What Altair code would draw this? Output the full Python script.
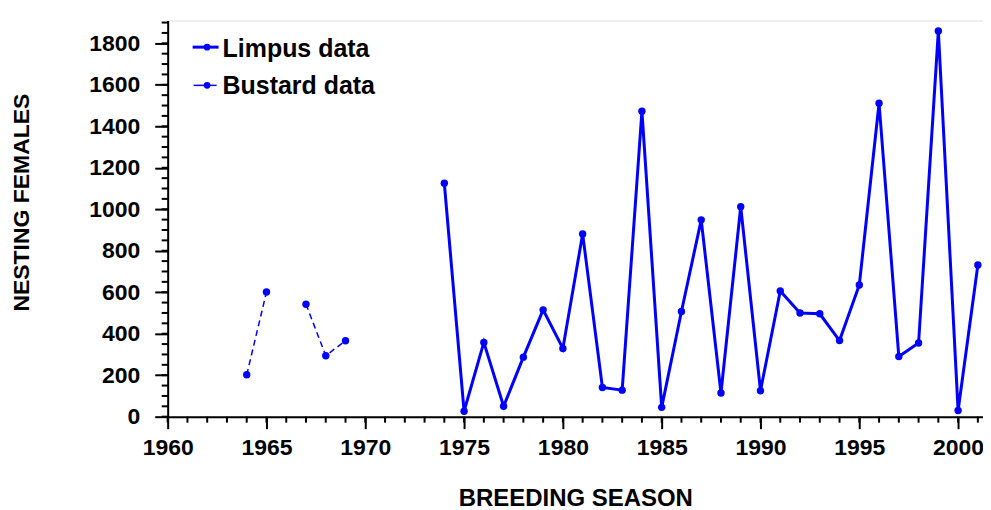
import altair as alt
import pandas as pd

# ---- data ----
limpus_years = list(range(1974, 2002))
limpus_values = [1125, 26, 358, 50, 287, 515, 329, 881, 141, 128, 1473, 45, 507,
                 949, 114, 1012, 125, 606, 500, 496, 367, 635, 1511, 290, 355,
                 1859, 30, 731]

bustard_years = [1964, 1965, 1967, 1968, 1969]
bustard_values = [202, 601, 542, 294, 366]

x_ticks = list(range(1960, 2001, 5))
x_minor = list(range(1960, 2002))
y_ticks = list(range(0, 1801, 200))
y_minor = list(range(0, 1901, 50))

legend_labels = ["Limpus data", "Bustard data"]

# ---- tables ----
limpus = pd.DataFrame({"year": limpus_years, "value": limpus_values})
seg = []
s = 0
for i, yr in enumerate(bustard_years):
    if i > 0 and yr - bustard_years[i - 1] > 1:
        s += 1
    seg.append(s)
bustard = pd.DataFrame({"year": bustard_years, "value": bustard_values, "seg": seg})

W, H = 817, 397
BLUE = "#0000FF"
FONT = "Liberation Sans"

xscale = alt.Scale(domain=[1960, 2001.26], nice=False, zero=False)
yscale = alt.Scale(domain=[0, 1910], nice=False, zero=False)

xaxis = alt.Axis(values=x_ticks, format="d", title="BREEDING SEASON",
                 labelFont=FONT, labelFontWeight="bold", labelFontSize=23,
                 labelColor="black", labelPadding=8, labelFlush=False,
                 labelOverlap=False, tickSize=12, tickWidth=2, tickColor="black",
                 domainWidth=2, domainColor="black", grid=False,
                 titleFont=FONT, titleFontWeight="bold", titleFontSize=24,
                 titleColor="black", titleX=408.5, titleY=89,
                 titleBaseline="alphabetic")
yaxis = alt.Axis(values=y_ticks, format="d", title="NESTING FEMALES",
                 labelFont=FONT, labelFontWeight="bold", labelFontSize=23,
                 labelColor="black", labelPadding=15, labelFlush=False,
                 labelOverlap=False, tickSize=13, tickWidth=2, tickColor="black",
                 domainWidth=2, domainColor="black", grid=False,
                 titleFont=FONT, titleFontWeight="bold", titleFontSize=23,
                 titleColor="black", titleX=-139, titleY=182,
                 titleBaseline="alphabetic")

limpus_line = alt.Chart(limpus).mark_line(
    color=BLUE, strokeWidth=3,
    point=alt.OverlayMarkDef(color=BLUE, size=55, filled=True, opacity=1)
).encode(
    x=alt.X("year:Q", scale=xscale, axis=xaxis),
    y=alt.Y("value:Q", scale=yscale, axis=yaxis),
)

bustard_line = alt.Chart(bustard).mark_line(
    color=BLUE, strokeWidth=1.5, strokeDash=[6, 4],
    point=alt.OverlayMarkDef(color=BLUE, size=55, filled=True, opacity=1)
).encode(
    x=alt.X("year:Q", scale=xscale),
    y=alt.Y("value:Q", scale=yscale),
    detail="seg:N",
)

xminor = alt.Chart(pd.DataFrame({"year": x_minor})).mark_rule(
    color="black", strokeWidth=2
).encode(
    x=alt.X("year:Q", scale=xscale),
    y=alt.value(H), y2=alt.value(H + 6),
)

yminor = alt.Chart(pd.DataFrame({"v": y_minor})).mark_rule(
    color="black", strokeWidth=2
).encode(
    y=alt.Y("v:Q", scale=yscale),
    x=alt.value(-6), x2=alt.value(1),
)

# ---- legend ----
leg_y = [26.7, 65]
leg_df = pd.DataFrame({"label": legend_labels, "y": leg_y})

leg_line1 = alt.Chart(leg_df.iloc[[0]]).mark_rule(color=BLUE, strokeWidth=3).encode(
    x=alt.value(25), x2=alt.value(51), y=alt.value(leg_y[0]))
leg_line2 = alt.Chart(leg_df.iloc[[1]]).mark_rule(color=BLUE, strokeWidth=1.5).encode(
    x=alt.value(26), x2=alt.value(49), y=alt.value(leg_y[1]))
leg_pt1 = alt.Chart(leg_df.iloc[[0]]).mark_point(color=BLUE, filled=True, size=45, opacity=1).encode(
    x=alt.value(39.5), y=alt.value(leg_y[0]))
leg_pt2 = alt.Chart(leg_df.iloc[[1]]).mark_point(color=BLUE, filled=True, size=45, opacity=1).encode(
    x=alt.value(39.5), y=alt.value(leg_y[1]))
leg_text1 = alt.Chart(leg_df.iloc[[0]]).mark_text(
    align="left", baseline="alphabetic", font=FONT, fontWeight="bold",
    fontSize=25, color="black").encode(
    x=alt.value(55), y=alt.value(36.7), text="label:N")
leg_text2 = alt.Chart(leg_df.iloc[[1]]).mark_text(
    align="left", baseline="alphabetic", font=FONT, fontWeight="bold",
    fontSize=25, color="black").encode(
    x=alt.value(55), y=alt.value(73.3), text="label:N")

chart = alt.layer(
    xminor, yminor, bustard_line, limpus_line,
    leg_line1, leg_line2, leg_pt1, leg_pt2, leg_text1, leg_text2
).properties(
    width=W, height=H,
    autosize=alt.AutoSizeParams(type="none"),
    padding={"left": 160, "top": 12, "right": 0, "bottom": 93},
).configure_view(stroke=None).configure(background="white")

chart.save("out.html", embed_options={"renderer": "svg", "actions": False})
